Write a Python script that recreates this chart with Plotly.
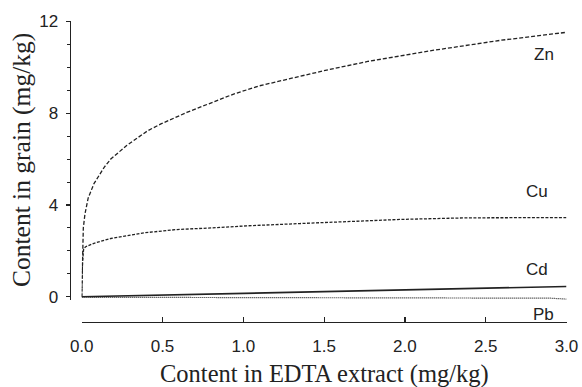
import plotly.graph_objects as go

# Data
zn_x = [0, 0.004, 0.01, 0.02, 0.04, 0.076, 0.14, 0.18, 0.28, 0.41, 0.49, 0.65, 0.80, 0.94, 1.10, 1.31, 1.50, 1.77, 2.18, 2.59, 3.0]
zn_y = [0, 2.0, 3.0, 3.6, 4.3, 4.93, 5.65, 6.0, 6.6, 7.24, 7.53, 8.03, 8.46, 8.83, 9.19, 9.55, 9.85, 10.25, 10.74, 11.17, 11.52]

cu_x = [0, 0.005, 0.012, 0.025, 0.076, 0.18, 0.39, 0.59, 0.80, 1.02, 1.35, 1.97, 2.39, 3.0]
cu_y = [0, 1.5, 2.1, 2.18, 2.33, 2.54, 2.79, 2.93, 3.0, 3.09, 3.19, 3.37, 3.44, 3.45]

cd_x = [0, 0.5, 1.0, 1.5, 2.0, 2.5, 3.0]
cd_y = [0, 0.08, 0.15, 0.22, 0.30, 0.38, 0.45]

pb_x = [0, 1.0, 2.0, 2.9, 3.0]
pb_y = [-0.02, -0.04, -0.05, -0.06, -0.1]

labels = ["Zn", "Cu", "Cd", "Pb"]
label_x = [2.86, 2.82, 2.82, 2.86]
label_y = [10.57, 4.59, 1.21, -0.78]

x_ticks = [0.0, 0.5, 1.0, 1.5, 2.0, 2.5, 3.0]
x_ticktext = ["0.0", "0.5", "1.0", "1.5", "2.0", "2.5", "3.0"]
y_ticks = [0, 4, 8, 12]
y_minor_ticks = [1, 2, 3, 5, 6, 7, 9, 10, 11]

x_title = "Content in EDTA extract (mg/kg)"
y_title = "Content in grain (mg/kg)"

ink = "#222222"
W, H = 582, 387
y_lo, y_hi = -0.15, 12
px_per_y = (296.8 - 21.3) / 12.0
y_bot_px = 296.8 - y_lo * px_per_y

fig = go.Figure()
fig.add_trace(go.Scatter(x=zn_x, y=zn_y, mode="lines", line=dict(color=ink, width=1.3, dash="4px,2px"), name="Zn"))
fig.add_trace(go.Scatter(x=cu_x, y=cu_y, mode="lines", line=dict(color=ink, width=1.3, dash="3px,1.5px"), name="Cu"))
fig.add_trace(go.Scatter(x=cd_x, y=cd_y, mode="lines", line=dict(color=ink, width=1.6), name="Cd"))
fig.add_trace(go.Scatter(x=pb_x, y=pb_y, mode="lines", line=dict(color=ink, width=1.2, dash="1px,1px"), name="Pb"))

for t, lx, ly in zip(labels, label_x, label_y):
    fig.add_annotation(x=lx, xref="x", y=(ly - y_lo) / (y_hi - y_lo), yref="y domain", text=t,
                       showarrow=False, xanchor="center", yanchor="middle",
                       font=dict(family="Liberation Sans, Arial", size=17, color=ink))

fig.add_annotation(xref="paper", yref="paper", x=324 / W, y=1 - 374 / H, text=x_title, showarrow=False,
                   xanchor="center", yanchor="middle",
                   font=dict(family="Liberation Serif, Times New Roman", size=24.5, color=ink))
fig.add_annotation(xref="paper", yref="paper", x=22 / W, y=1 - 160 / H, text=y_title, showarrow=False,
                   textangle=-90, xanchor="center", yanchor="middle",
                   font=dict(family="Liberation Serif, Times New Roman", size=25.5, color=ink))

fig.update_layout(
    width=W, height=H,
    margin=dict(l=0, r=0, t=0, b=0, autoexpand=False),
    paper_bgcolor="white", plot_bgcolor="white",
    showlegend=False,
    hovermode=False,
    xaxis=dict(
        range=[0, 3], domain=[81.7 / W, 566.5 / W],
        anchor="free", position=1 - 322 / H, automargin=False,
        showgrid=False, zeroline=False, showline=True, linecolor=ink, linewidth=1.2,
        ticks="inside", ticklen=5, tickcolor=ink, tickwidth=1.2,
        tickvals=x_ticks, ticktext=x_ticktext,
        tickfont=dict(family="Liberation Sans, Arial", size=17, color=ink),
        ticklabelstandoff=8,
    ),
    yaxis=dict(
        range=[y_lo, y_hi], domain=[1 - y_bot_px / H, 1 - 21.3 / H],
        anchor="free", position=69.5 / W, automargin=False,
        showgrid=False, zeroline=False, showline=True, linecolor=ink, linewidth=1.2,
        ticks="outside", ticklen=4, tickcolor=ink, tickwidth=1.2,
        tickvals=y_ticks,
        minor=dict(tickvals=y_minor_ticks, ticks="outside", ticklen=3, tickcolor=ink, tickwidth=1),
        tickfont=dict(family="Liberation Sans, Arial", size=17, color=ink),
        ticklabelstandoff=4,
    ),
)

fig.write_html("out.html", config={"displayModeBar": False, "staticPlot": True},
               post_script="document.body.style.margin='0';document.body.style.overflow='hidden';")
